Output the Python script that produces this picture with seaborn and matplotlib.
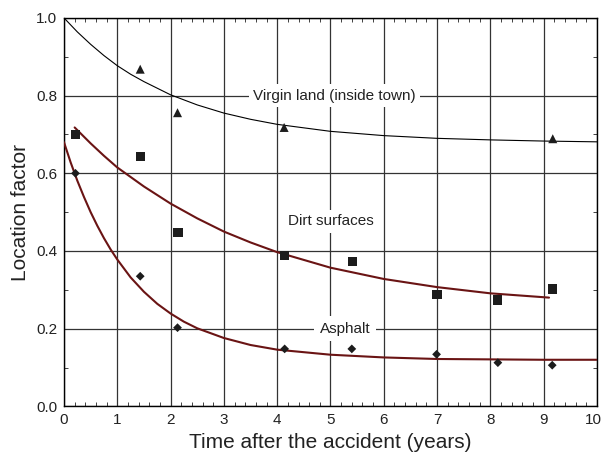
import numpy as np
import pandas as pd
import matplotlib
matplotlib.use('Agg')
import matplotlib.pyplot as plt
import matplotlib.transforms as mtransforms
import seaborn as sns

# measured points
virgin_x = [1.43, 2.13, 4.13, 9.17]
virgin_y = [0.868, 0.756, 0.718, 0.689]

dirt_x = [0.215, 1.44, 2.14, 4.14, 5.41, 7.0, 8.14, 9.17]
dirt_y = [0.699, 0.644, 0.448, 0.388, 0.3735, 0.289, 0.274, 0.302]

asphalt_x = [0.215, 1.43, 2.13, 4.14, 5.40, 6.99, 8.14, 9.16]
asphalt_y = [0.600, 0.335, 0.2026, 0.148, 0.148, 0.134, 0.1125, 0.106]

# fitted curves
virgin_fit_x = [0, 0.25, 0.5, 0.75, 1, 1.25, 1.5, 2, 2.5, 3, 3.5, 4, 5, 6, 7, 8, 9, 10]
virgin_fit_y = [1.0, 0.964, 0.932, 0.903, 0.877, 0.855, 0.836, 0.802, 0.776, 0.755, 0.739, 0.726, 0.708, 0.697, 0.690, 0.686, 0.683, 0.681]

dirt_fit_x = [0.2, 0.5, 0.75, 1, 1.5, 2, 2.5, 3, 3.5, 4, 5, 6, 7, 8, 9.1]
dirt_fit_y = [0.718, 0.677, 0.645, 0.615, 0.566, 0.522, 0.484, 0.450, 0.422, 0.397, 0.357, 0.328, 0.307, 0.291, 0.280]

asphalt_fit_x = [0, 0.125, 0.25, 0.375, 0.5, 0.625, 0.75, 0.875, 1, 1.25, 1.5, 1.75, 2, 2.25, 2.5, 3, 3.5, 4, 5, 6, 7, 8, 9, 10]
asphalt_fit_y = [0.68, 0.628, 0.581, 0.539, 0.500, 0.465, 0.433, 0.404, 0.378, 0.332, 0.295, 0.264, 0.239, 0.218, 0.201, 0.176, 0.158, 0.146, 0.133, 0.126, 0.122, 0.121, 0.120, 0.120]

sns.set_style('ticks')
plt.rcParams['font.family'] = ['Liberation Sans', 'DejaVu Sans']

fig = plt.figure(figsize=(6.02, 4.58), dpi=100)
ax = fig.add_axes([0.1063, 0.1127, 0.8854, 0.8482])

curve_red = '#6a1414'
mark_col = '#1c1c1c'

sns.lineplot(x=virgin_fit_x, y=virgin_fit_y, ax=ax, color='black', lw=0.8, zorder=4)
sns.lineplot(x=dirt_fit_x, y=dirt_fit_y, ax=ax, color=curve_red, lw=1.5, zorder=4)
sns.lineplot(x=asphalt_fit_x, y=asphalt_fit_y, ax=ax, color=curve_red, lw=1.5, zorder=4)

sns.scatterplot(x=virgin_x, y=virgin_y, ax=ax, marker='^', s=42, color=mark_col, edgecolor='none', zorder=5)
sns.scatterplot(x=dirt_x, y=dirt_y, ax=ax, marker='s', s=44, color=mark_col, edgecolor='none', zorder=5)
sns.scatterplot(x=asphalt_x, y=asphalt_y, ax=ax, marker='D', s=20, color=mark_col, edgecolor='none', zorder=5)

ax.set_xlim(0, 10)
ax.set_ylim(0, 1.0)
ax.set_xticks(range(0, 11))
ax.set_yticks([0.0, 0.2, 0.4, 0.6, 0.8, 1.0])
ax.set_yticklabels(['0.0', '0.2', '0.4', '0.6', '0.8', '1.0'])
ax.set_xticks(np.arange(0, 10.01, 0.2), minor=True)
ax.set_yticks(np.arange(0, 1.001, 0.1), minor=True)
ax.grid(True, which='major', color='#333333', lw=0.9)
ax.set_axisbelow(True)
ax.tick_params(which='both', direction='in', top=True, right=True, labelsize=11, colors='#222222')
ax.tick_params(which='major', length=0, pad=5)
ax.tick_params(which='minor', length=3, width=0.6)
for s in ax.spines.values():
    s.set_color('black')
    s.set_linewidth(1.0)

# keep the "10" inside the figure
last = ax.get_xticklabels()[-1]
last.set_transform(last.get_transform() + mtransforms.ScaledTranslation(-4 / 100, 0, fig.dpi_scale_trans))

ax.set_xlabel('Time after the accident (years)', fontsize=15, color='#222222')
ax.set_ylabel('Location factor', fontsize=15, color='#222222')

box = dict(facecolor='white', edgecolor='none', pad=3)
ax.text(5.08, 0.8, 'Virgin land (inside town)', fontsize=11, ha='center', va='center', bbox=box, zorder=3, color='#222222')
ax.text(5.0, 0.476, 'Dirt surfaces', fontsize=11, ha='center', va='center', bbox=box, zorder=3, color='#222222')
ax.text(5.27, 0.2, 'Asphalt', fontsize=11, ha='center', va='center', bbox=dict(facecolor='white', edgecolor='none', pad=4), zorder=3, color='#222222')

fig.savefig('out.png', dpi=100)
